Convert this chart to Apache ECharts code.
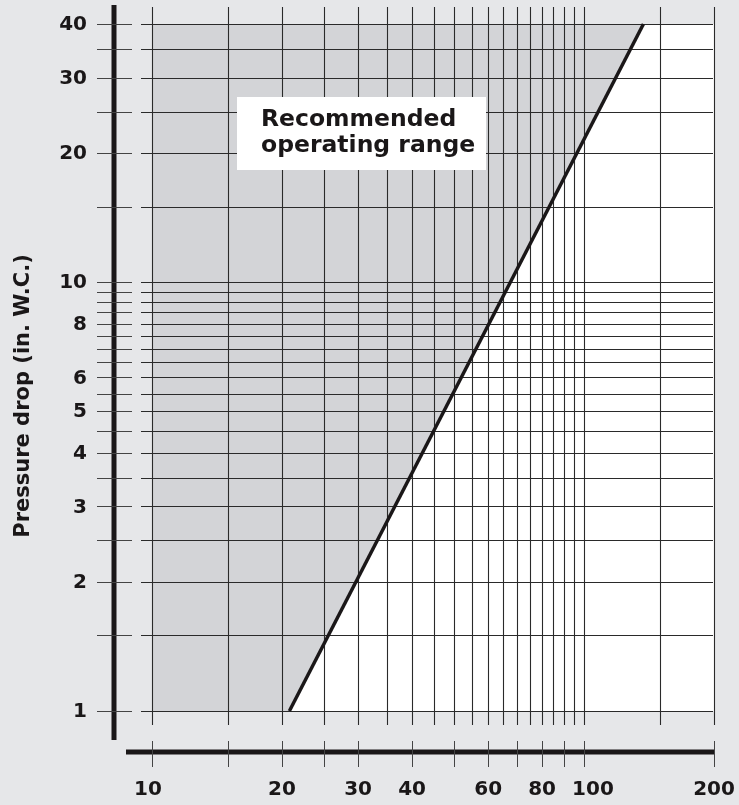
<!DOCTYPE html>
<html><head><meta charset="utf-8">
<script src="https://cdn.jsdelivr.net/npm/echarts@6/dist/echarts.min.js"></script>
<style>html,body{margin:0;padding:0;background:#e6e7e9}#c{width:739px;height:805px}</style>
</head><body><div id="c"></div>
<script>
// ---- data ----
const xRange = [10, 200];
const yRange = [1, 40];
const xGridValues = [10,15,20,25,30,35,40,45,50,55,60,65,70,75,80,85,90,95,100,150,200];
const yGridValues = [1,1.5,2,2.5,3,3.5,4,4.5,5,5.5,6,6.5,7,7.5,8,8.5,9,9.5,10,15,20,25,30,35,40];
const xTickValues = [10,15,20,25,30,40,50,60,70,80,90,100,200];
const xLabelValues = [10,20,30,40,60,80,100,200];
const yLabelValues = [1,2,3,4,5,6,8,10,20,30,40];
const limitLine = [[20.8,1],[137.3,40]];
const rangeLabel = ['Recommended','operating range'];
const yTitle = 'Pressure drop (in. W.C.)';

// ---- styles ----
const INK = '#1a1718';
const GRIDC = '#2a2a2a';
const FONT_TICK = 'bold 20px "DejaVu Sans"';
const FONT_BOX = 'bold 23.5px "DejaVu Sans"';
const FONT_TITLE = 'bold 21px "DejaVu Sans"';
const xNudge = {10:-4, 100:9};

const chart = echarts.init(document.getElementById('c'), null, {renderer:'canvas'});
const px = v => Math.round(v) + 0.5;

function customSeries(name, data, render, z){
  return {type:'custom', name, data, renderItem: render, clip:false, z, silent:true,
          encode:{x:0, y:1}};
}

const shadePoly = [[xRange[0],yRange[0]],[xRange[0],yRange[1]],[limitLine[1][0],yRange[1]],[limitLine[0][0],yRange[0]]];

const option = {
  backgroundColor:'#e6e7e9',
  animation:false,
  grid:{left:152, right:25, top:24, bottom:94},
  xAxis:{type:'log', logBase:10, min:xRange[0], max:xRange[1],
    axisLine:{show:false}, axisTick:{show:false}, axisLabel:{show:false}, splitLine:{show:false}},
  yAxis:{type:'log', logBase:10, min:yRange[0], max:yRange[1],
    axisLine:{show:false}, axisTick:{show:false}, axisLabel:{show:false}, splitLine:{show:false}},
  series:[
    customSeries('area', [[xRange[0], yRange[0]]], (p, api) => {
      const a = api.coord([xRange[0], yRange[1]]), b = api.coord([xRange[1], yRange[0]]);
      return {type:'rect', shape:{x:a[0], y:a[1], width:b[0]-a[0], height:b[1]-a[1]}, style:{fill:'#ffffff'}};
    }, 1),
    customSeries('shade', [[xRange[0], yRange[0]]], (p, api) => {
      return {type:'polygon', shape:{points: shadePoly.map(d => api.coord(d))}, style:{fill:'#d3d4d7'}};
    }, 2),
    customSeries('vgrid', xGridValues.map(v => [v, yRange[0]]), (p, api) => {
      const x = px(api.coord([api.value(0), yRange[0]])[0]);
      const top = api.coord([xRange[0], yRange[1]])[1] - 17;
      const bot = api.coord([xRange[0], yRange[0]])[1] + 14;
      return {type:'line', shape:{x1:x, y1:top, x2:x, y2:bot}, style:{stroke:GRIDC, lineWidth:1.1}};
    }, 3),
    customSeries('hgrid', yGridValues.map(v => [xRange[0], v]), (p, api) => {
      const y = px(api.coord([xRange[0], api.value(1)])[1]);
      const l = api.coord([xRange[0], yRange[0]])[0] - 11;
      const r = api.coord([xRange[1], yRange[0]])[0] - 1;
      return {type:'line', shape:{x1:l, y1:y, x2:r, y2:y}, style:{stroke:GRIDC, lineWidth:1.1}};
    }, 3),
    {type:'line', data: limitLine, showSymbol:false, symbol:'none', z:5, silent:true,
     lineStyle:{color:INK, width:3.5}},
    customSeries('yaxis', [[xRange[0], yRange[0]]], (p, api) => {
      const x0 = api.coord([xRange[0], yRange[0]])[0];
      const top = api.coord([xRange[0], yRange[1]])[1];
      const bot = api.coord([xRange[0], yRange[0]])[1];
      return {type:'line', shape:{x1:x0-38, y1:top-19, x2:x0-38, y2:bot+29}, style:{stroke:INK, lineWidth:5}};
    }, 6),
    customSeries('yticks', yGridValues.map(v => [xRange[0], v]), (p, api) => {
      const x0 = api.coord([xRange[0], yRange[0]])[0];
      const y = px(api.coord([xRange[0], api.value(1)])[1]);
      return {type:'line', shape:{x1:x0-55, y1:y, x2:x0-20, y2:y}, style:{stroke:'#444', lineWidth:1}};
    }, 6),
    customSeries('ylabels', yLabelValues.map(v => [xRange[0], v]), (p, api) => {
      const x0 = api.coord([xRange[0], yRange[0]])[0];
      const y = api.coord([xRange[0], api.value(1)])[1];
      return {type:'text', style:{text:String(api.value(1)), x:x0-65, y:y+1, align:'right', verticalAlign:'middle', font:FONT_TICK, fill:INK}};
    }, 6),
    customSeries('xaxis', [[xRange[0], yRange[0]]], (p, api) => {
      const l = api.coord([xRange[0], yRange[0]])[0];
      const r = api.coord([xRange[1], yRange[0]])[0];
      const y = api.coord([xRange[0], yRange[0]])[1] + 41;
      return {type:'line', shape:{x1:l-26, y1:y, x2:r+1, y2:y}, style:{stroke:INK, lineWidth:5}};
    }, 6),
    customSeries('xticks', xTickValues.map(v => [v, yRange[0]]), (p, api) => {
      const x = px(api.coord([api.value(0), yRange[0]])[0]);
      const y = api.coord([xRange[0], yRange[0]])[1];
      return {type:'line', shape:{x1:x, y1:y+30, x2:x, y2:y+56}, style:{stroke:'#444', lineWidth:1}};
    }, 6),
    customSeries('xlabels', xLabelValues.map(v => [v, yRange[0]]), (p, api) => {
      const v = api.value(0);
      const x = api.coord([v, yRange[0]])[0] + (xNudge[v] || 0);
      const y = api.coord([xRange[0], yRange[0]])[1];
      return {type:'text', style:{text:String(v), x:x, y:y+79, align:'center', verticalAlign:'middle', font:FONT_TICK, fill:INK}};
    }, 6)
  ],
  graphic:[
    {type:'rect', z:20, shape:{x:237, y:97, width:249, height:73}, style:{fill:'#ffffff'}},
    {type:'text', z:21, x:261, y:120, style:{text:rangeLabel[0], font:FONT_BOX, fill:INK, align:'left', verticalAlign:'middle'}},
    {type:'text', z:21, x:261, y:146, style:{text:rangeLabel[1], font:FONT_BOX, fill:INK, align:'left', verticalAlign:'middle'}},
    {type:'text', z:21, x:24, y:396, rotation:Math.PI/2, style:{text:yTitle, font:FONT_TITLE, fill:INK, align:'center', verticalAlign:'middle'}}
  ]
};
chart.setOption(option);
</script>
</body></html>
